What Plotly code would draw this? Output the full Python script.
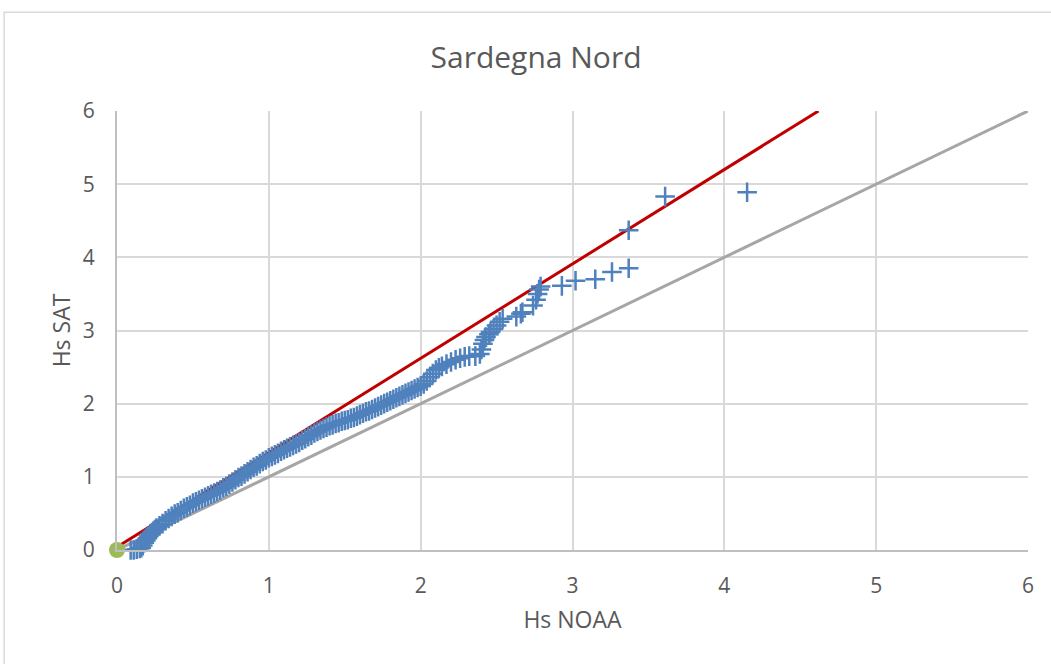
import plotly.graph_objects as go

# Sorted significant wave heights (m): model (NOAA) vs satellite (SAT)
hs_noaa = [
    0.09, 0.11, 0.13, 0.15, 0.16, 0.17, 0.18, 0.19, 0.20, 0.21,
    0.22, 0.23, 0.24, 0.25, 0.26, 0.28, 0.30, 0.32, 0.34, 0.36,
    0.38, 0.40, 0.42, 0.44, 0.46, 0.48, 0.50, 0.52, 0.54, 0.56,
    0.58, 0.60, 0.62, 0.64, 0.66, 0.68, 0.70, 0.72, 0.74, 0.76,
    0.78, 0.80, 0.82, 0.84, 0.86, 0.88, 0.90, 0.92, 0.94, 0.96,
    0.98, 1.00, 1.02, 1.04, 1.06, 1.08, 1.10, 1.12, 1.14, 1.16,
    1.18, 1.20, 1.22, 1.24, 1.26, 1.28, 1.30, 1.32, 1.34, 1.36,
    1.38, 1.40, 1.42, 1.44, 1.46, 1.48, 1.50, 1.52, 1.54, 1.56,
    1.58, 1.60, 1.62, 1.64, 1.66, 1.68, 1.70, 1.72, 1.74, 1.76,
    1.78, 1.80, 1.82, 1.84, 1.86, 1.88, 1.90, 1.92, 1.94, 1.96,
    1.98, 2.00, 2.02, 2.04, 2.06, 2.08, 2.10, 2.12, 2.14, 2.17,
    2.20, 2.23, 2.26, 2.29, 2.32, 2.36, 2.39, 2.40, 2.41, 2.42,
    2.43, 2.45, 2.46, 2.48, 2.50, 2.52, 2.54, 2.63, 2.66, 2.67,
    2.74, 2.76, 2.77, 2.78, 2.79, 2.93, 3.02, 3.15, 3.26, 3.37,
    3.37, 3.61, 4.15,
]
hs_sat = [
    0.00, 0.00, 0.01, 0.02, 0.03, 0.06, 0.10, 0.13, 0.16, 0.19,
    0.22, 0.24, 0.26, 0.28, 0.30, 0.33, 0.36, 0.40, 0.43, 0.46,
    0.49, 0.51, 0.54, 0.57, 0.59, 0.61, 0.64, 0.66, 0.68, 0.70,
    0.72, 0.74, 0.76, 0.78, 0.80, 0.82, 0.85, 0.87, 0.90, 0.93,
    0.96, 0.99, 1.01, 1.04, 1.07, 1.10, 1.13, 1.15, 1.18, 1.21,
    1.23, 1.26, 1.28, 1.30, 1.32, 1.35, 1.37, 1.39, 1.41, 1.43,
    1.45, 1.47, 1.50, 1.52, 1.55, 1.57, 1.60, 1.62, 1.64, 1.66,
    1.68, 1.70, 1.71, 1.73, 1.74, 1.76, 1.77, 1.78, 1.80, 1.81,
    1.83, 1.85, 1.87, 1.89, 1.90, 1.92, 1.94, 1.96, 1.98, 2.00,
    2.02, 2.04, 2.06, 2.08, 2.10, 2.12, 2.14, 2.16, 2.18, 2.20,
    2.22, 2.24, 2.27, 2.31, 2.36, 2.41, 2.46, 2.49, 2.51, 2.54,
    2.57, 2.60, 2.62, 2.64, 2.65, 2.65, 2.68, 2.74, 2.82, 2.87,
    2.91, 2.95, 2.98, 3.02, 3.07, 3.12, 3.16, 3.19, 3.23, 3.25,
    3.34, 3.42, 3.50, 3.56, 3.60, 3.61, 3.68, 3.70, 3.80, 3.85,
    4.37, 4.83, 4.89,
]

# Fitted line and 1:1 reference line (end points)
fit_x = [0.0, 4.62]
fit_y = [0.04, 6.0]
bisector_x = [0.0, 6.0]
bisector_y = [0.0, 6.0]

# Origin marker
origin_x = [0.0]
origin_y = [0.0]

tick_vals = [0, 1, 2, 3, 4, 5, 6]
tick_text = ["0", "1", "2", "3", "4", "5", "6"]

TEXT = "#595959"
GRID = "#d9d9d9"
BLUE = "#4f81bd"
FONT = "Open Sans"

fig = go.Figure()

fig.add_trace(go.Scatter(
    x=bisector_x, y=bisector_y, mode="lines",
    line=dict(color="#a6a6a6", width=3), hoverinfo="skip",
))
fig.add_trace(go.Scatter(
    x=fit_x, y=fit_y, mode="lines",
    line=dict(color="#c00000", width=3), hoverinfo="skip",
))
fig.add_trace(go.Scatter(
    x=hs_noaa, y=hs_sat, mode="markers", cliponaxis=False,
    marker=dict(symbol="cross-thin-open", size=14, color=BLUE,
                line=dict(color=BLUE, width=2.5)),
))
fig.add_trace(go.Scatter(
    x=origin_x, y=origin_y, mode="markers", cliponaxis=False,
    marker=dict(symbol="circle", size=16, color="#9bbb59"),
))

# Outer chart frame
L, R, T, B = 117.3, 1028.0, 111.3, 550.5
def px_x(p):
    return (p - L) / (R - L)
def px_y(p):
    return (B - p) / (B - T)

fig.add_shape(
    type="rect", xref="paper", yref="paper",
    x0=px_x(4.5), x1=px_x(1070), y0=px_y(690), y1=px_y(12.5),
    line=dict(color=GRID, width=1.5), fillcolor="rgba(0,0,0,0)", layer="below",
)

axis_common = dict(
    range=[0, 6], tickvals=tick_vals, ticktext=tick_text,
    showgrid=True, gridcolor=GRID, gridwidth=1.5,
    showline=True, linecolor="#bfbfbf", linewidth=2,
    zeroline=False, ticks="", mirror=False,
    tickfont=dict(family=FONT, size=21, color=TEXT),
    fixedrange=True,
)

fig.update_layout(
    width=1051, height=664,
    margin=dict(l=117, r=23, t=111, b=114),
    paper_bgcolor="white", plot_bgcolor="white",
    showlegend=False,
    title=dict(text="Sardegna Nord", x=0.51, xanchor="center",
               y=1 - 57 / 664, yanchor="middle",
               font=dict(family=FONT, size=30, color=TEXT)),
    xaxis=dict(**axis_common, ticklabelstandoff=16,
               title=dict(text="Hs NOAA", standoff=14,
                          font=dict(family=FONT, size=23, color=TEXT))),
    yaxis=dict(**axis_common, ticklabelstandoff=16,
               title=dict(text="Hs SAT", standoff=6,
                          font=dict(family=FONT, size=23, color=TEXT))),
)

fig.write_html("out.html")
